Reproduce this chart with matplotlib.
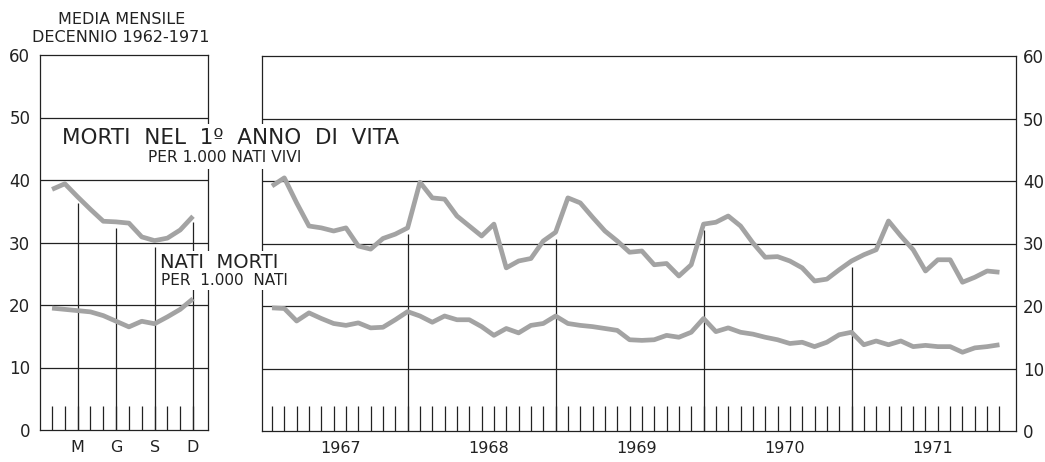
import matplotlib
matplotlib.use("Agg")
import matplotlib.pyplot as plt
import numpy as np

# ---------------- data ----------------
# left panel: monthly averages 1962-1971 (Jan..Dec)
avg_months = list(range(1, 13))
avg_tick_months = [3, 6, 9, 12]
avg_tick_labels = ["M", "G", "S", "D"]
avg_infant = [38.5, 39.4, 37.3, 35.3, 33.4, 33.3, 33.1, 30.9, 30.3, 30.7, 32.0, 34.2]
avg_stillborn = [19.5, 19.3, 19.1, 18.9, 18.3, 17.4, 16.5, 17.4, 17.0, 18.1, 19.3, 21.0]

# main panel: monthly values 1967-1971
years = ["1967", "1968", "1969", "1970", "1971"]
infant = [
    39.2, 40.5, 36.5, 32.8, 32.5, 32.0, 32.5, 29.6, 29.1, 30.8, 31.5, 32.5,   # 1967
    39.8, 37.3, 37.1, 34.4, 32.8, 31.2, 33.1, 26.1, 27.2, 27.6, 30.4, 31.8,   # 1968
    37.3, 36.5, 34.2, 32.0, 30.4, 28.6, 28.8, 26.6, 26.8, 24.8, 26.6, 33.1,   # 1969
    33.4, 34.4, 32.8, 30.1, 27.8, 27.9, 27.2, 26.1, 24.0, 24.3, 25.8, 27.2,   # 1970
    28.2, 29.0, 33.6, 31.2, 29.0, 25.6, 27.4, 27.4, 23.8, 24.6, 25.6, 25.4,   # 1971
]
stillborn = [
    19.7, 19.6, 17.6, 18.9, 18.0, 17.2, 16.9, 17.3, 16.5, 16.6, 17.8, 19.1,
    18.4, 17.4, 18.4, 17.8, 17.8, 16.7, 15.3, 16.4, 15.7, 16.9, 17.2, 18.4,
    17.2, 16.9, 16.7, 16.4, 16.1, 14.6, 14.5, 14.6, 15.3, 15.0, 15.8, 18.0,
    15.9, 16.5, 15.8, 15.5, 15.0, 14.6, 14.0, 14.2, 13.5, 14.2, 15.4, 15.8,
    13.8, 14.4, 13.8, 14.4, 13.5, 13.7, 13.5, 13.5, 12.6, 13.3, 13.5, 13.8,
]
y_ticks = [0, 10, 20, 30, 40, 50, 60]

# ---------------- style ----------------
INK = "#222222"
CURVE = "#a3a3a3"
LW_CURVE = 3.4
LW_GRID = 0.9
FONT = "DejaVu Sans"
plt.rcParams["font.family"] = [FONT]

fig = plt.figure(figsize=(10.45, 4.62), dpi=100)
fig.patch.set_facecolor("white")

W, H = 1045, 462
def fr(x0, y_top, x1, y_bot):
    return [x0 / W, 1 - y_bot / H, (x1 - x0) / W, (y_bot - y_top) / H]

axL = fig.add_axes(fr(40, 55, 208, 430))
axM = fig.add_axes(fr(262, 56, 1016, 431))

def style(ax):
    ax.set_ylim(0, 60)
    for s in ax.spines.values():
        s.set_color(INK)
        s.set_linewidth(LW_GRID)
    for yv in y_ticks[1:-1]:
        ax.axhline(yv, color=INK, lw=LW_GRID, zorder=1)
    ax.set_yticks(y_ticks)
    ax.tick_params(axis="y", length=0, labelsize=12, colors=INK)
    ax.tick_params(axis="x", length=0, labelsize=11.5, colors=INK, pad=7)

# ---- left panel ----
style(axL)
axL.set_xlim(0.06, 13.17)
axL.vlines(avg_months, 0, 3.8, color=INK, lw=LW_GRID, zorder=1)
axL.vlines(avg_tick_months, 0,
           [avg_infant[m - 1] - 1.0 for m in avg_tick_months],
           color=INK, lw=LW_GRID, zorder=1)
axL.plot(avg_months, avg_infant, color=CURVE, lw=LW_CURVE, solid_capstyle="butt",
         solid_joinstyle="round", zorder=3)
axL.plot(avg_months, avg_stillborn, color=CURVE, lw=LW_CURVE, solid_capstyle="butt",
         solid_joinstyle="round", zorder=3)
axL.set_xticks(avg_tick_months)
axL.set_xticklabels(avg_tick_labels)
axL.tick_params(axis="y", pad=7)

# ---- main panel ----
style(axM)
k = np.arange(len(infant))
axM.set_xlim(-0.81, 60.34)
axM.vlines(k, 0, 4.0, color=INK, lw=LW_GRID, zorder=1)
year_ends = [12 * (i + 1) - 1 for i in range(len(years) - 1)]
axM.vlines(year_ends, 0, [infant[e] - 1.0 for e in year_ends],
           color=INK, lw=LW_GRID, zorder=1)
axM.plot(k, infant, color=CURVE, lw=LW_CURVE, solid_capstyle="butt",
         solid_joinstyle="round", zorder=3)
axM.plot(k, stillborn, color=CURVE, lw=LW_CURVE, solid_capstyle="butt",
         solid_joinstyle="round", zorder=3)
axM.set_xticks([12 * i + 5.6 for i in range(len(years))])
axM.set_xticklabels(years)
axM.yaxis.tick_right()
axM.tick_params(axis="y", pad=5)

# ---- texts ----
fig.text(122 / W, 1 - 19 / H, "MEDIA MENSILE", ha="center", va="center",
         fontsize=11.5, color=INK)
fig.text(121 / W, 1 - 38 / H, "DECENNIO 1962-1971", ha="center", va="center",
         fontsize=11.5, color=INK)

box = dict(facecolor="white", edgecolor="none", pad=3)
box2 = dict(facecolor="white", edgecolor="none", pad=1.5)
fig.text(62 / W, 1 - 144 / H, "MORTI  NEL  1º  ANNO  DI  VITA", ha="left",
         va="baseline", fontsize=15.5, color=INK, bbox=box, zorder=10)
fig.text(148 / W, 1 - 162 / H, "PER 1.000 NATI VIVI", ha="left",
         va="baseline", fontsize=11.2, color=INK, bbox=box, zorder=10)
fig.text(160 / W, 1 - 268 / H, "NATI  MORTI", ha="left",
         va="baseline", fontsize=14, color=INK, bbox=box2, zorder=10)
fig.text(161 / W, 1 - 285 / H, "PER  1.000  NATI", ha="left",
         va="baseline", fontsize=11, color=INK, bbox=box2, zorder=10)

fig.savefig("out.png", dpi=100, facecolor="white")
